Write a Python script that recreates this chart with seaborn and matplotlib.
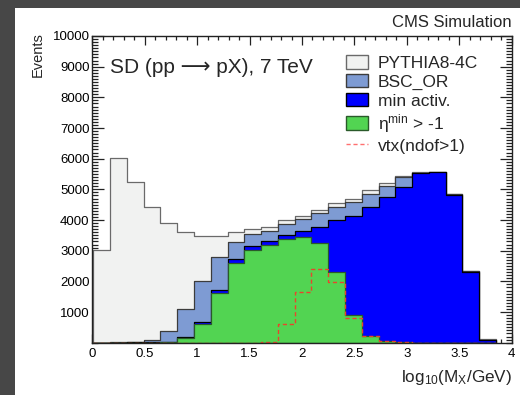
import matplotlib
matplotlib.use("Agg")
import numpy as np
import pandas as pd
import seaborn as sns
import matplotlib.pyplot as plt
from matplotlib.patches import Patch, Rectangle
from matplotlib.lines import Line2D
from matplotlib.ticker import MultipleLocator, FixedLocator, FormatStrFormatter

# ---------------- data ----------------
bin_edges = [0.01, 0.17, 0.33, 0.49, 0.65, 0.81, 0.97, 1.13, 1.29, 1.45, 1.61, 1.77,
             1.93, 2.09, 2.25, 2.41, 2.57, 2.73, 2.89, 3.05, 3.21, 3.37, 3.53, 3.69, 3.85]
pythia = [3020, 6030, 5230, 4415, 3890, 3620, 3485, 3490, 3600, 3710, 3765, 3995,
          4140, 4325, 4545, 4675, 4980, 5200, 5430, 5575, 5570, 4840, 2335, 110]
bsc_or = [0, 10, 20, 90, 385, 1090, 2010, 2805, 3295, 3535, 3650, 3870,
          4025, 4220, 4435, 4580, 4850, 5110, 5395, 5545, 5560, 4835, 2330, 100]
min_activ = [0, 5, 10, 20, 30, 170, 660, 1710, 2720, 3150, 3320, 3510,
             3640, 3780, 4000, 4130, 4435, 4740, 5085, 5525, 5550, 4815, 2315, 90]
eta_min = [0, 0, 0, 0, 10, 140, 615, 1625, 2605, 3015, 3190, 3375,
           3455, 3260, 2315, 905, 218, 55, 10, 0, 0, 0, 0, 0]
vtx = [0, 0, 0, 0, 0, 0, 0, 0, 0, 5, 33, 595,
       1663, 2395, 1990, 820, 218, 40, 10, 0, 0, 0, 0, 0]
series_labels = ["PYTHIA8-4C", "BSC_OR", "min activ.",
                 r"$\mathrm{\eta^{min}}$ > -1", "vtx(ndof>1)"]
x_ticks = [0, 0.5, 1, 1.5, 2, 2.5, 3, 3.5, 4]
y_ticks = [1000, 2000, 3000, 4000, 5000, 6000, 7000, 8000, 9000, 10000]
title_text = "SD (pp \u27f6 pX), 7 TeV"
corner_text = "CMS Simulation"
x_label = r"$\mathrm{log_{10}(M_X/GeV)}$"
y_label = "Events"

# ---------------- style ----------------
sns.set_style("ticks")
plt.rcParams["font.family"] = ["Liberation Sans", "DejaVu Sans"]
plt.rcParams["mathtext.fontset"] = "custom"
plt.rcParams["mathtext.rm"] = "Liberation Sans"
plt.rcParams["mathtext.it"] = "Liberation Sans:italic"
plt.rcParams["mathtext.default"] = "regular"

W, H = 520, 395
centers = [(a + b) / 2 for a, b in zip(bin_edges[:-1], bin_edges[1:])]
df = pd.DataFrame({"center": centers, "pythia": pythia, "bsc": bsc_or,
                   "minact": min_activ, "eta": eta_min, "vtx": vtx})

fig = plt.figure(figsize=(W / 100, H / 100), dpi=100)
fig.patch.set_facecolor("white")
fig.patches.append(Rectangle((0, 0), 15 / W, 1, transform=fig.transFigure,
                             facecolor="#474747", edgecolor="none", zorder=-10))
fig.patches.append(Rectangle((0, 1 - 8 / H), 1, 8 / H, transform=fig.transFigure,
                             facecolor="#474747", edgecolor="none", zorder=-10))

x0, x1, y0, y1 = 92.3, 511.7, 342.7, 36.0
ax = fig.add_axes([x0 / W, 1 - y0 / H, (x1 - x0) / W, (y0 - y1) / H])
ax.set_facecolor("white")

fill_styles = [("pythia", "#f1f2f1", "#6a6a6a"),
               ("bsc", "#7e9bd3", "#3c3c3c"),
               ("minact", "#0000ff", "#000000"),
               ("eta", "#52d452", "#2a5a2a")]
for col, fc, ec in fill_styles:
    sns.histplot(data=df, x="center", weights=col, bins=bin_edges, element="step",
                 fill=True, color=fc, alpha=1, edgecolor=ec, linewidth=0.9, ax=ax)
vtx_color = "#e8452c"
sns.histplot(data=df, x="center", weights="vtx", bins=bin_edges, element="step",
             fill=False, color=vtx_color, linestyle=(0, (3, 2)), linewidth=1.0, ax=ax)

ax.set_xlim(0, 4)
ax.set_ylim(0, 10000)
ax.set_xlabel("")
ax.set_ylabel("")
ax.xaxis.set_major_locator(FixedLocator(x_ticks))
ax.xaxis.set_major_formatter(FormatStrFormatter("%g"))
ax.xaxis.set_minor_locator(MultipleLocator(0.1))
ax.yaxis.set_major_locator(FixedLocator(y_ticks))
ax.yaxis.set_major_formatter(FormatStrFormatter("%d"))
ax.yaxis.set_minor_locator(MultipleLocator(100))
ax.tick_params(axis="both", which="both", direction="in", top=True, right=True,
               colors="#222222", labelcolor="black", labelsize=9.5, width=0.9)
ax.tick_params(axis="x", which="major", length=6.5, pad=4)
ax.tick_params(axis="x", which="minor", length=3.2)
ax.tick_params(axis="y", which="major", length=8.6, pad=2)
ax.tick_params(axis="y", which="minor", length=4.3)
for s in ax.spines.values():
    s.set_color("#222222")
    s.set_linewidth(1.0)
    s.set_visible(True)

handles = [Patch(facecolor=fc, edgecolor=ec, linewidth=1.0) for _, fc, ec in fill_styles]
handles.append(Line2D([0], [0], color="#ff7070", linestyle=(0, (3, 2)), linewidth=1.0))
ax.legend(handles=handles, labels=series_labels, loc="upper left",
          bbox_to_anchor=(346 / W, 1 - 55 / H), bbox_transform=fig.transFigure,
          frameon=False, fontsize=12.5, handlelength=1.27, handleheight=0.82,
          handletextpad=0.55, labelspacing=0.18, borderpad=0, borderaxespad=0)

fig.text(110 / W, 1 - 73 / H, title_text, fontsize=15, ha="left", va="baseline")
fig.text(512 / W, 1 - 27.3 / H, corner_text, fontsize=12, ha="right", va="baseline")
fig.text(512 / W, 1 - 382 / H, x_label, fontsize=12.3, ha="right", va="baseline")
fig.text(38 / W, 1 - 32 / H, y_label, fontsize=10.5, rotation=90, ha="center", va="top")

fig.savefig("out.png", dpi=100)
